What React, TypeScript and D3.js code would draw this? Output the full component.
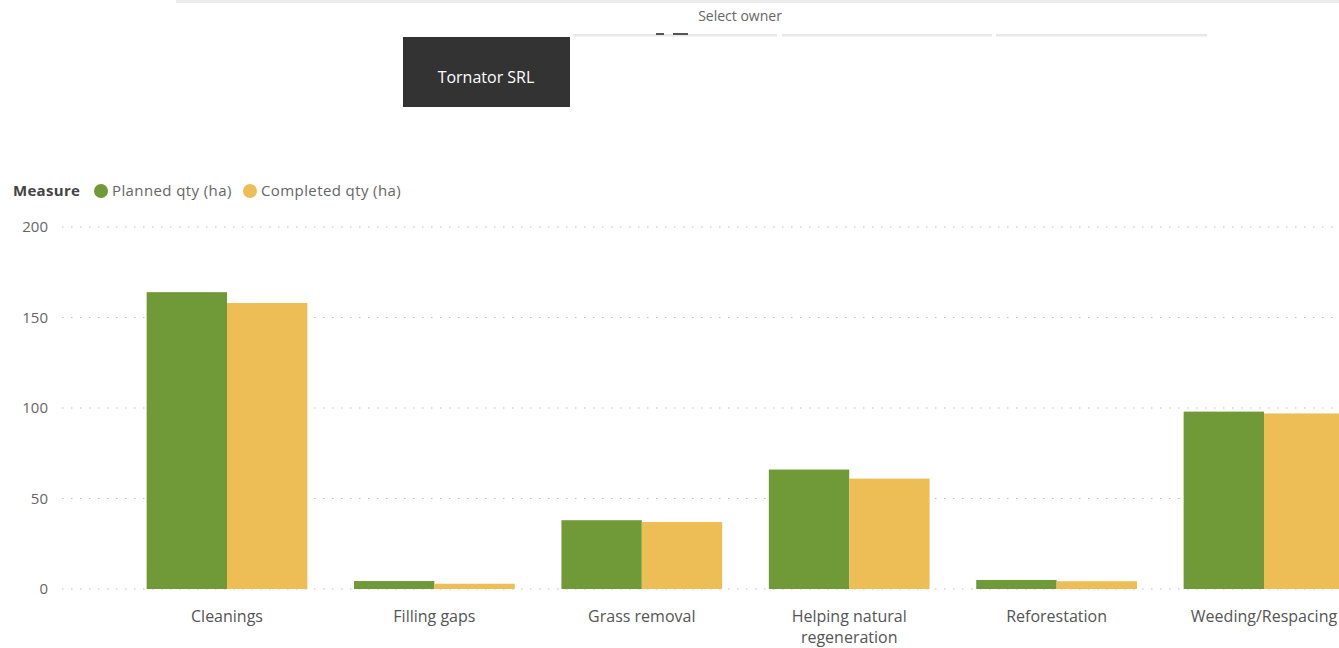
import { useEffect, useRef } from 'react';
import * as d3 from 'd3';

const W = 1339;
const H = 648;

const categories = ['Cleanings', 'Filling gaps', 'Grass removal', 'Helping natural regeneration', 'Reforestation', 'Weeding/Respacing'];
const seriesNames = ['Planned qty (ha)', 'Completed qty (ha)'];
const planned = [164, 4.4, 38, 66, 5, 98];
const completed = [158, 2.9, 37, 61, 4.3, 97];
const yTicks = [0, 50, 100, 150, 200];
const colors = ['#6f9a37', '#ecbe55'];
const font = '"Open Sans", "Segoe UI", sans-serif';

export default function App() {
  const svgRef = useRef<SVGSVGElement>(null);

  useEffect(() => {
    if (!svgRef.current) return;
    const svg = d3.select(svgRef.current);
    svg.selectAll('*').remove();

    // ── slicer header at the top ──
    svg.append('rect').attr('x', 176).attr('y', 0).attr('width', W - 176).attr('height', 3).attr('fill', '#ececec');
    svg.append('text')
      .attr('x', 740).attr('y', 21)
      .attr('text-anchor', 'middle')
      .attr('font-family', font).attr('font-size', 14)
      .attr('fill', '#666')
      .text('Select owner');
    [[573, 777], [782, 992], [996, 1207]].forEach(([a, b]) => {
      svg.append('rect').attr('x', a).attr('y', 34).attr('width', b - a).attr('height', 2.5).attr('fill', '#e8e8e8');
    });
    svg.append('rect').attr('x', 656).attr('y', 33).attr('width', 8).attr('height', 2).attr('fill', '#555');
    svg.append('rect').attr('x', 673).attr('y', 33).attr('width', 15).attr('height', 2).attr('fill', '#555');
    svg.append('rect').attr('x', 403).attr('y', 37).attr('width', 167).attr('height', 70).attr('fill', '#333333');
    svg.append('text')
      .attr('x', 486).attr('y', 83)
      .attr('text-anchor', 'middle')
      .attr('font-family', font).attr('font-size', 16)
      .attr('fill', '#ffffff')
      .text('Tornator SRL');

    // ── legend ──
    const lg = svg.append('g').attr('font-family', font).attr('font-size', 15);
    lg.append('text').attr('x', 13).attr('y', 196).attr('font-weight', 'bold').attr('fill', '#444').attr('letter-spacing', 0.3).text('Measure');
    const legendX = [101, 250];
    seriesNames.forEach((name, i) => {
      lg.append('circle').attr('cx', legendX[i]).attr('cy', 191).attr('r', 7).attr('fill', colors[i]);
      lg.append('text').attr('x', legendX[i] + 11).attr('y', 196).attr('fill', '#666').attr('letter-spacing', 0.4).text(name);
    });

    // ── scales ──
    const y = d3.scaleLinear().domain([0, 200]).range([589, 227]);
    const step = 207.4;
    const x0 = 227 - step / 2;
    const x = d3.scaleBand<string>()
      .domain(categories)
      .range([x0, x0 + step * categories.length])
      .paddingInner(0.225)
      .paddingOuter(0.1125);
    const xs = d3.scaleBand<number>().domain([0, 1]).range([0, x.bandwidth()]);

    // gridlines + y labels
    const grid = svg.append('g');
    yTicks.forEach(t => {
      grid.append('line')
        .attr('x1', 62).attr('x2', W)
        .attr('y1', y(t)).attr('y2', y(t))
        .attr('stroke', '#bdbdbd').attr('stroke-width', 1.2)
        .attr('stroke-dasharray', '1.5,7.5');
      grid.append('text')
        .attr('x', 48).attr('y', y(t) + 5)
        .attr('text-anchor', 'end')
        .attr('font-family', font).attr('font-size', 15)
        .attr('fill', '#666')
        .text(t);
    });

    // bars
    const series = [planned, completed];
    const bars = svg.append('g');
    categories.forEach((c, ci) => {
      series.forEach((vals, si) => {
        bars.append('rect')
          .attr('x', (x(c) ?? 0) + (xs(si) ?? 0))
          .attr('y', y(vals[ci]))
          .attr('width', xs.bandwidth())
          .attr('height', y(0) - y(vals[ci]))
          .attr('fill', colors[si]);
      });
    });

    // category labels (wrapped)
    const labels = svg.append('g').attr('font-family', font).attr('font-size', 16).attr('fill', '#555');
    categories.forEach(c => {
      const cx = (x(c) ?? 0) + x.bandwidth() / 2;
      const lines = c === 'Helping natural regeneration' ? ['Helping natural', 'regeneration'] : [c];
      const t = labels.append('text').attr('text-anchor', 'middle');
      lines.forEach((l, li) => {
        t.append('tspan').attr('x', cx).attr('y', 622 + li * 21).text(l);
      });
    });
  }, []);

  return (
    <div style={{ position: 'absolute', left: 0, top: 0, width: W, height: H, background: '#fff', overflow: 'hidden' }}>
      <svg ref={svgRef} width={W} height={H} />
    </div>
  );
}
